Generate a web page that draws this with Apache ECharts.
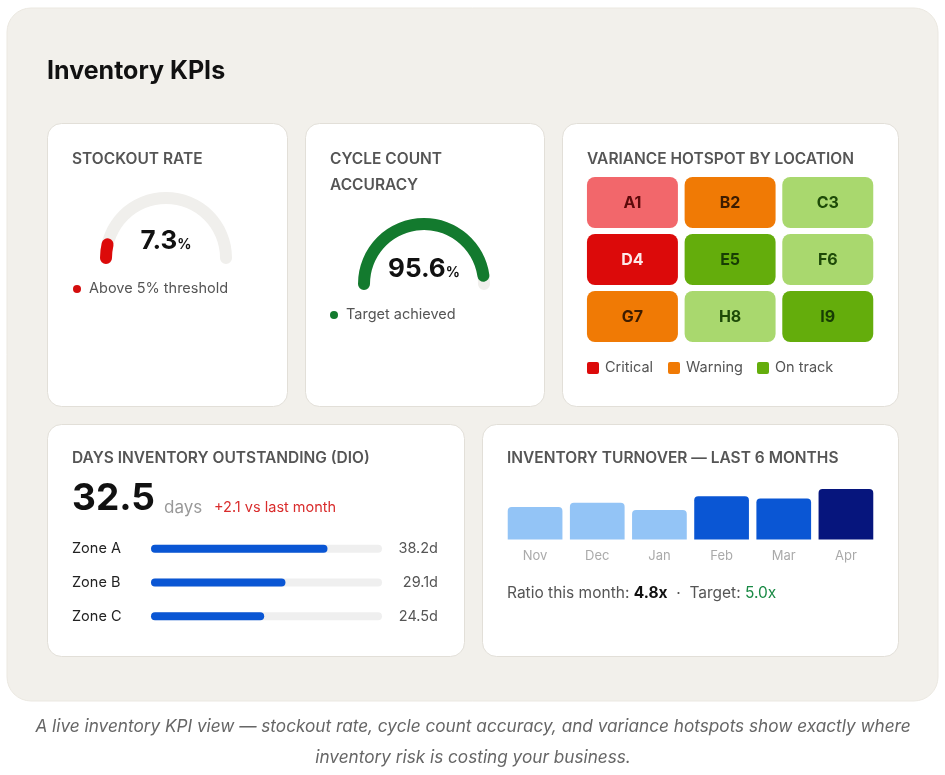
<!DOCTYPE html>
<html>
<head>
<meta charset="utf-8">
<script src="https://cdn.jsdelivr.net/npm/echarts@6/dist/echarts.min.js"></script>
<style>
  html, body { margin: 0; padding: 0; background: #fff; }
  #main { width: 945px; height: 775px; }
</style>
</head>
<body>
<div id="main"></div>
<script>
// KPI values
var stockoutRate = 7.3
var cycleAccuracy = 95.6

// DIO by zone
var dioValue = 32.5
var dioDelta = 2.1
var zoneNames = ['Zone A', 'Zone B', 'Zone C']
var zoneDays = [38.2, 29.1, 24.5]

// turnover, last 6 months
var months = ['Nov', 'Dec', 'Jan', 'Feb', 'Mar', 'Apr']
var turnover = [3.1, 3.5, 2.8, 4.1, 3.9, 4.8]
var turnoverTarget = 5.0

// variance hotspot grid (level: 0 critical high, 1 critical low, 2 warning, 3 on track low, 4 on track high)
var locations = ['A1', 'B2', 'C3', 'D4', 'E5', 'F6', 'G7', 'H8', 'I9']
var levels = [1, 2, 3, 0, 4, 3, 2, 3, 4]

var FONT = 'Inter, "Noto Sans", sans-serif'
var levelFill = ['#dc0a0a', '#f2676b', '#f07a05', '#a9d86e', '#64ad0c']
var levelText = ['#fde8e8', '#5c0a0a', '#3d1c00', '#1e4a08', '#173d04']
var barColors = ['#93c4f6', '#93c4f6', '#93c4f6', '#0a56d4', '#0a56d4', '#06157d']

var myChart = echarts.init(document.getElementById('main'))

function card(x, y, w, h) {
	return { type: 'rect', z: 0, shape: { x: x, y: y, width: w, height: h, r: 14 },
		style: { fill: '#fff', stroke: '#e2dfd8', lineWidth: 1 } }
}
function txt(x, y, s, font, color, align) {
	return { type: 'text', z: 1, x: x, y: y,
		style: { text: s, font: font, fill: color, align: align || 'left', verticalAlign: 'middle' } }
}
var titleFont = '600 15.5px ' + FONT

var heatData = locations.map(function (name, i) {
	return [i % 3, Math.floor(i / 3), name, levels[i]]
})

var option = {
	animation: false,
	textStyle: { fontFamily: FONT },
	graphic: [
		{ type: 'rect', z: 0, shape: { x: 7, y: 8, width: 931, height: 693, r: 24 },
			style: { fill: '#f2f0eb', stroke: '#ebe8e1', lineWidth: 1 } },
		txt(47, 71, 'Inventory KPIs', '700 25px ' + FONT, '#111'),
		card(47.5, 123.5, 240, 283),
		card(305.5, 123.5, 239, 283),
		card(562.5, 123.5, 336, 283),
		card(47.5, 424.5, 417, 232),
		card(482.5, 424.5, 416, 232),
		txt(72, 159, 'STOCKOUT RATE', titleFont, '#555'),
		{ type: 'text', z: 1, x: 330, y: 146,
			style: { text: 'CYCLE COUNT\nACCURACY', font: titleFont, lineHeight: 26, fill: '#555', verticalAlign: 'top' } },
		txt(587, 159, 'VARIANCE HOTSPOT BY LOCATION', titleFont, '#555'),
		txt(72, 458, 'DAYS INVENTORY OUTSTANDING (DIO)', titleFont, '#555'),
		txt(507, 458, 'INVENTORY TURNOVER \u2014 LAST 6 MONTHS', titleFont, '#555'),
		// status lines
		{ type: 'circle', z: 1, shape: { cx: 77, cy: 289, r: 4 }, style: { fill: '#d40d0d' } },
		txt(89, 289, 'Above 5% threshold', '14.5px ' + FONT, '#555'),
		{ type: 'circle', z: 1, shape: { cx: 334, cy: 315, r: 4 }, style: { fill: '#137a2e' } },
		txt(346, 315, 'Target achieved', '14.5px ' + FONT, '#555'),
		// hotspot legend
		{ type: 'rect', z: 1, shape: { x: 587, y: 362, width: 12, height: 12, r: 2 }, style: { fill: levelFill[0] } },
		txt(605, 368, 'Critical', '14.5px ' + FONT, '#555'),
		{ type: 'rect', z: 1, shape: { x: 668, y: 362, width: 12, height: 12, r: 2 }, style: { fill: levelFill[2] } },
		txt(686, 368, 'Warning', '14.5px ' + FONT, '#555'),
		{ type: 'rect', z: 1, shape: { x: 757, y: 362, width: 12, height: 12, r: 2 }, style: { fill: levelFill[4] } },
		txt(775, 368, 'On track', '14.5px ' + FONT, '#555'),
		// DIO headline
		txt(72, 499, String(dioValue), '700 37px ' + FONT, '#111'),
		txt(164, 508, 'days', '17px ' + FONT, '#999'),
		txt(214, 508, '+' + dioDelta + ' vs last month', '14.5px ' + FONT, '#d92c2c'),
		// turnover ratio line
		{ type: 'text', z: 1, x: 507, y: 593,
			style: {
				text: 'Ratio this month: {b|' + turnover[turnover.length - 1].toFixed(1) + 'x}  \u00b7  Target: {g|' + turnoverTarget.toFixed(1) + 'x}',
				font: '15.5px ' + FONT, fill: '#555', verticalAlign: 'middle',
				rich: { b: { font: '700 15.5px ' + FONT, fill: '#111' }, g: { font: '15.5px ' + FONT, fill: '#1a8a45' } }
			} },
		// caption
		txt(473, 727, 'A live inventory KPI view \u2014 stockout rate, cycle count accuracy, and variance hotspots show exactly where', 'italic 17.2px ' + FONT, '#666', 'center'),
		txt(473, 758, 'inventory risk is costing your business.', 'italic 17.2px ' + FONT, '#666', 'center')
	],
	grid: [
		{ left: 151, top: 532, width: 231, height: 101 },
		{ left: 504, top: 489, width: 373, height: 50.5 },
		{ left: 583.6, top: 174, width: 293, height: 171 }
	],
	xAxis: [
		{ gridIndex: 0, type: 'value', min: 0, max: 50, show: false },
		{ gridIndex: 1, type: 'category', data: months,
			axisLine: { show: false }, axisTick: { show: false },
			axisLabel: { color: '#aaa', fontSize: 13, margin: 10 } },
		{ gridIndex: 2, type: 'category', data: ['1', '2', '3'], show: false }
	],
	yAxis: [
		{ gridIndex: 0, type: 'category', data: zoneNames, inverse: true,
			axisLine: { show: false }, axisTick: { show: false },
			axisLabel: { align: 'left', margin: 79, color: '#222', fontSize: 14.5 } },
		{ gridIndex: 0, type: 'category', position: 'right', inverse: true,
			data: zoneDays.map(function (v) { return v.toFixed(1) + 'd' }),
			axisLine: { show: false }, axisTick: { show: false },
			axisLabel: { align: 'right', margin: 56, color: '#555', fontSize: 14.5 } },
		{ gridIndex: 1, type: 'value', min: 0, max: 4.8, show: false },
		{ gridIndex: 2, type: 'category', data: ['1', '2', '3'], inverse: true, show: false }
	],
	series: [
		{
			type: 'gauge', center: [166, 258], radius: 66, startAngle: 180, endAngle: 0, min: 0, max: 100,
			axisLine: { roundCap: true, lineStyle: { width: 12, color: [[1, '#f0efec']] } },
			progress: { show: true, width: 12, roundCap: true, itemStyle: { color: '#dc0a0a' } },
			pointer: { show: false }, axisTick: { show: false }, splitLine: { show: false },
			axisLabel: { show: false }, anchor: { show: false }, title: { show: false },
			detail: { offsetCenter: [0, -17], formatter: function (v) { return '{v|' + v + '}{p|%}' },
				rich: { v: { fontSize: 26, fontWeight: 700, color: '#111', fontFamily: FONT },
					p: { fontSize: 14, color: '#111', fontFamily: FONT, padding: [7, 0, 0, 0] } } },
			data: [{ value: stockoutRate }]
		},
		{
			type: 'gauge', center: [424, 284], radius: 66, startAngle: 180, endAngle: 0, min: 0, max: 100,
			axisLine: { roundCap: true, lineStyle: { width: 12, color: [[1, '#f0efec']] } },
			progress: { show: true, width: 12, roundCap: true, itemStyle: { color: '#137a2e' } },
			pointer: { show: false }, axisTick: { show: false }, splitLine: { show: false },
			axisLabel: { show: false }, anchor: { show: false }, title: { show: false },
			detail: { offsetCenter: [0, -15], formatter: function (v) { return '{v|' + v + '}{p|%}' },
				rich: { v: { fontSize: 26, fontWeight: 700, color: '#111', fontFamily: FONT },
					p: { fontSize: 14, color: '#111', fontFamily: FONT, padding: [7, 0, 0, 0] } } },
			data: [{ value: cycleAccuracy }]
		},
		{
			type: 'bar', xAxisIndex: 0, yAxisIndex: 0, data: zoneDays, barWidth: 8,
			showBackground: true, backgroundStyle: { color: '#efefef', borderRadius: 4 },
			itemStyle: { color: '#0a56d4', borderRadius: 4 }
		},
		{
			type: 'bar', xAxisIndex: 1, yAxisIndex: 2, barCategoryGap: '12%',
			data: turnover.map(function (v, i) { return { value: v, itemStyle: { color: barColors[i] } } }),
			itemStyle: { borderRadius: [4, 4, 0, 0] }
		},
		{
			type: 'custom', xAxisIndex: 2, yAxisIndex: 3, data: heatData,
			renderItem: function (params, api) {
				var p = api.coord([api.value(0), api.value(1)])
				var s = api.size([1, 1])
				var w = s[0] - 6.7, h = s[1] - 6
				var lv = api.value(3)
				return { type: 'group', children: [
					{ type: 'rect', shape: { x: p[0] - w / 2, y: p[1] - h / 2, width: w, height: h, r: 8 },
						style: { fill: levelFill[lv] } },
					{ type: 'text', style: { text: heatData[params.dataIndex][2], x: p[0], y: p[1] + 1,
						align: 'center', verticalAlign: 'middle', font: '700 16px ' + FONT, fill: levelText[lv] } }
				] }
			}
		}
	]
}
myChart.setOption(option)
</script>
</body>
</html>
